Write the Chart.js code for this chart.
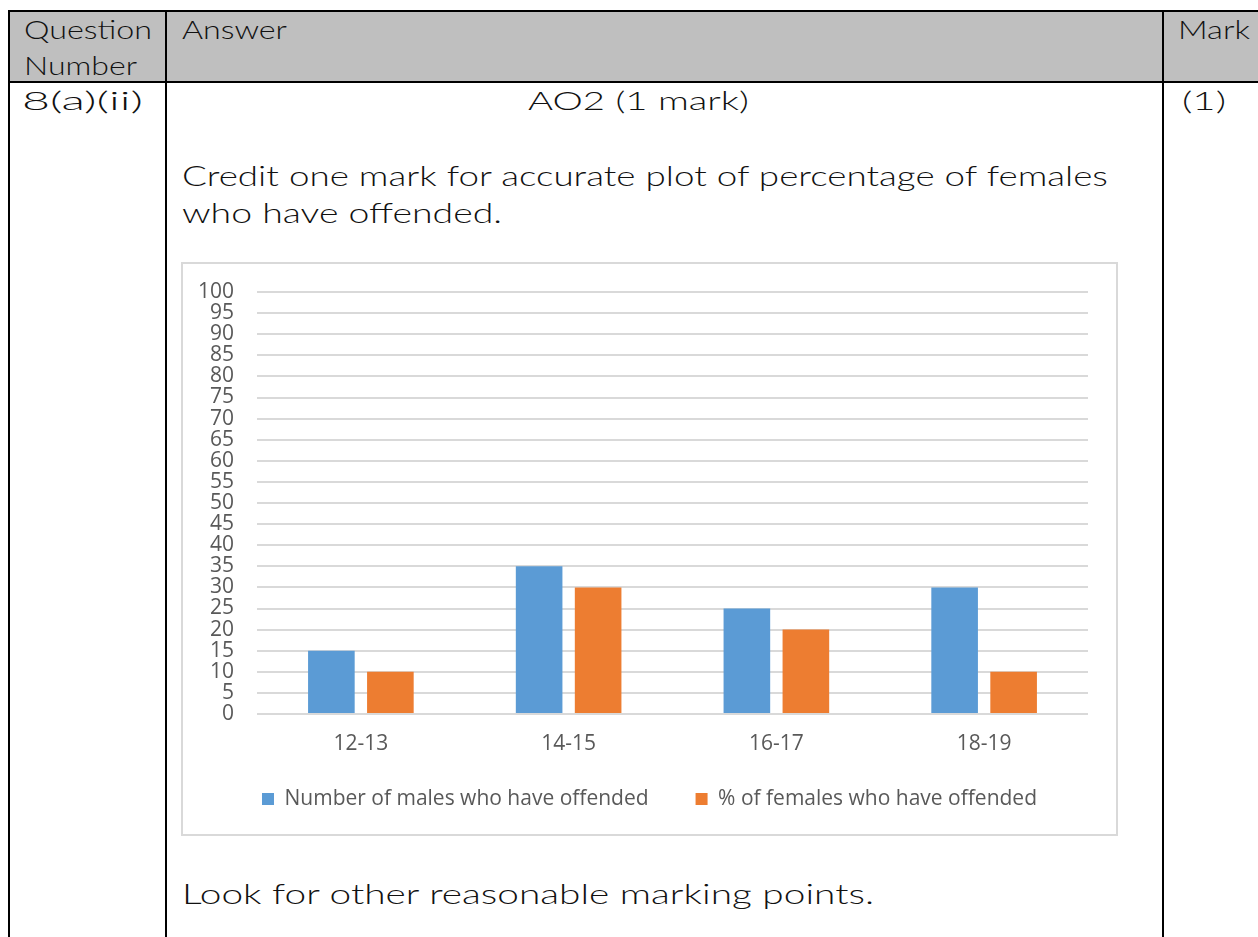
<!DOCTYPE html>
<html>
<head>
<meta charset="utf-8">
<script src="https://cdn.jsdelivr.net/npm/chart.js@4/dist/chart.umd.min.js"></script>
<style>
  html, body { margin:0; padding:0; background:#fff; }
  body { width:1258px; height:937px; position:relative; overflow:hidden; }
  .ln { position:absolute; background:#000; }
  .hdr { position:absolute; left:9px; top:11px; width:1249px; height:71px; background:#bfbfbf; }
  .t { position:absolute; white-space:nowrap; font-family:"Lato","DejaVu Sans",sans-serif; font-weight:300; color:#111; line-height:1; transform-origin:0 50%; }
  #frame { position:absolute; left:181px; top:262px; width:937px; height:574px; border:2px solid #d9d9d9; box-sizing:border-box; background:#fff; }
  #c { position:absolute; left:0; top:0; }
</style>
</head>
<body>
<div class="hdr"></div>
<div class="ln" style="left:8px;top:10px;width:1250px;height:2px"></div>
<div class="ln" style="left:8px;top:81px;width:1250px;height:2px"></div>
<div class="ln" style="left:8px;top:10px;width:2px;height:927px"></div>
<div class="ln" style="left:165px;top:10px;width:2px;height:927px"></div>
<div class="ln" style="left:1162px;top:10px;width:2px;height:927px"></div>

<div class="t" data-w="128" style="left:24px;top:17px;font-size:25px">Question</div>
<div class="t" data-w="113" style="left:24px;top:53px;font-size:25px">Number</div>
<div class="t" data-w="105" style="left:182px;top:17px;font-size:25px">Answer</div>
<div class="t" data-w="72" style="left:1178px;top:17px;font-size:25px">Mark</div>
<div class="t" data-w="121" style="left:22px;top:88px;font-size:25px">8(a)(ii)</div>
<div class="t" data-w="221" style="left:528px;top:88px;font-size:25px">AO2 (1 mark)</div>
<div class="t" data-w="44" style="left:1182px;top:88px;font-size:25px">(1)</div>
<div class="t" data-w="926" style="left:182px;top:161px;font-size:28px">Credit one mark for accurate plot of percentage of females</div>
<div class="t" data-w="320" style="left:182px;top:198px;font-size:28px">who have offended.</div>
<div class="t" data-w="692" style="left:182px;top:879px;font-size:28px">Look for other reasonable marking points.</div>

<div id="frame"><canvas id="c" width="933" height="570"></canvas></div>

<script>
const categories = ['12-13', '14-15', '16-17', '18-19'];
const maleLabel = 'Number of males who have offended';
const femaleLabel = '% of females who have offended';
const maleValues = [15, 35, 25, 30];
const femaleValues = [10, 30, 20, 10];
const yMin = 0, yMax = 100, yStep = 5;

document.querySelectorAll('.t').forEach(el => {
  const target = +el.dataset.w;
  const w = el.getBoundingClientRect().width;
  if (w > 0) el.style.transform = 'scaleX(' + (target / w) + ')';
});

const tickFont = { family: '"Open Sans", sans-serif', size: 21 };
new Chart(document.getElementById('c'), {
  type: 'bar',
  data: {
    labels: categories,
    datasets: [
      { label: maleLabel, data: maleValues, backgroundColor: '#5b9bd5', borderWidth: 0 },
      { label: femaleLabel, data: femaleValues, backgroundColor: '#ed7d31', borderWidth: 0 }
    ]
  },
  options: {
    responsive: false,
    devicePixelRatio: 1,
    animation: false,
    categoryPercentage: 0.568,
    barPercentage: 0.79,
    layout: { padding: { top: 28, right: 0, left: 0, bottom: 14.5 } },
    plugins: {
      tooltip: { enabled: false },
      legend: {
        position: 'bottom',
        labels: { font: tickFont, color: '#595959', boxWidth: 12, boxHeight: 12, padding: 47 }
      }
    },
    scales: {
      x: {
        grid: { display: false },
        border: { display: false },
        ticks: { font: tickFont, color: '#595959', padding: -42.6, maxRotation: 0, mirror: true },
        afterFit: s => { s.height = 27.5; s.paddingLeft = 0; s.paddingRight = 0; }
      },
      y: {
        min: yMin, max: yMax,
        grid: { color: '#d9d9d9', lineWidth: 2, drawTicks: false },
        border: { display: false },
        ticks: { stepSize: yStep, autoSkip: false, font: tickFont, color: '#595959', padding: 23 },
        afterFit: s => { s.width = 74; s.paddingTop = 0; s.paddingBottom = 0; }
      },
      yRight: {
        position: 'right',
        min: yMin, max: yMax,
        grid: { display: false, drawTicks: false },
        border: { display: false },
        ticks: { display: false },
        afterFit: s => { s.width = 28; s.paddingTop = 0; s.paddingBottom = 0; }
      }
    }
  }
});
</script>
</body>
</html>
